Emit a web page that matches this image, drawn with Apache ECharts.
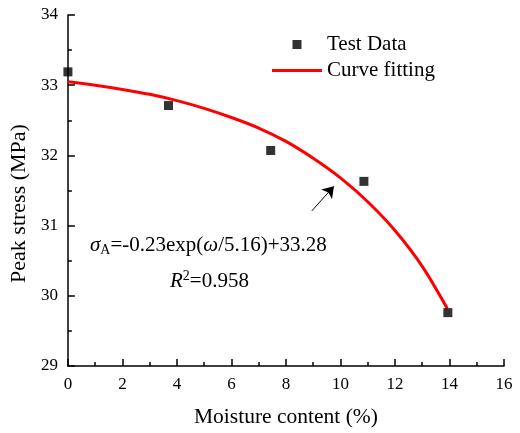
<!DOCTYPE html>
<html lang="en">
<head>
    <meta charset="UTF-8">
    <title>Peak stress vs moisture content</title>
    <script src="https://cdn.jsdelivr.net/npm/echarts@6/dist/echarts.min.js"></script>
    <style>
        html, body { margin: 0; padding: 0; background: #fff; }
    </style>
</head>
<body>
    <div id="main" style="width: 520px;height:433px;"></div>

    <script type="text/javascript">
        // test data
        var testX = [0, 3.69, 7.44, 10.86, 13.94];
        var testY = [33.19, 32.71, 32.07, 31.63, 29.76];

        // fitted curve
        var fitX = [0, 1, 2, 3, 4, 5, 6, 7, 8, 9, 10, 11, 12, 13, 13.92];
        var fitY = [33.05, 33.00, 32.94, 32.87, 32.78, 32.67, 32.54, 32.39, 32.20, 31.96, 31.68, 31.34, 30.93, 30.42, 29.82];

        // arrow pointing at the curve
        var arrowFrom = [8.95, 31.21];
        var arrowTo = [9.76, 31.56];

        var font = 'Liberation Serif';

        function pairs(xs, ys) {
            var out = [];
            for (var i = 0; i < xs.length; i++) {
                out.push([xs[i], ys[i]]);
            }
            return out;
        }

        var myChart = echarts.init(document.getElementById('main'));

        var tickStyle = { color: '#000', width: 1.5 };

        var option = {
            animation: false,
            backgroundColor: '#fff',
            grid: {
                left: 66,
                right: 16,
                top: 15,
                bottom: 65
            },
            legend: {
                orient: 'vertical',
                left: 272,
                top: 34,
                padding: 0,
                itemWidth: 50,
                itemHeight: 9,
                itemGap: 5,
                textStyle: { fontFamily: font, fontSize: 21, color: '#000' },
                data: [
                    { name: 'Test Data', icon: 'path://M0,0H10V10H0Z' },
                    { name: 'Curve fitting', icon: 'path://M0,0H50V3H0Z' }
                ]
            },
            xAxis: {
                type: 'value',
                min: 0,
                max: 16,
                interval: 2,
                name: 'Moisture content (%)',
                nameLocation: 'middle',
                nameGap: 40,
                nameTextStyle: { fontFamily: font, fontSize: 21.5, color: '#000' },
                axisLine: { lineStyle: tickStyle },
                // negative length turns the ticks into the plot
                axisTick: { inside: false, length: -7, lineStyle: tickStyle },
                minorTick: { show: true, splitNumber: 2, length: -4, lineStyle: tickStyle },
                axisLabel: { margin: 10, fontFamily: font, fontSize: 17, color: '#000' },
                splitLine: { show: false }
            },
            yAxis: {
                type: 'value',
                min: 29,
                max: 34,
                interval: 1,
                name: 'Peak stress (MPa)',
                nameLocation: 'middle',
                nameGap: 36,
                nameTextStyle: { fontFamily: font, fontSize: 22, color: '#000', padding: [0, 26, 0, 0] },
                axisLine: { show: true, lineStyle: tickStyle },
                axisTick: { show: true, inside: false, length: -7, lineStyle: tickStyle },
                minorTick: { show: true, splitNumber: 2, length: -4, lineStyle: tickStyle },
                axisLabel: { margin: 10, fontFamily: font, fontSize: 17, color: '#000' },
                splitLine: { show: false }
            },
            graphic: [
                {
                    type: 'text',
                    left: 90,
                    top: 235,
                    style: {
                        text: '{i|σ}{sub|A}=-0.23exp({i|ω}/5.16)+33.28',
                        font: '21px "Liberation Serif"',
                        fill: '#000',
                        rich: {
                            i: { fontFamily: font, fontSize: 21, fontStyle: 'italic' },
                            sub: { fontFamily: font, fontSize: 14, padding: [10, 0, 0, 0] }
                        }
                    }
                },
                {
                    type: 'text',
                    left: 170,
                    top: 269,
                    style: {
                        text: '{i|R}{sup|2}=0.958',
                        font: '21px "Liberation Serif"',
                        fill: '#000',
                        rich: {
                            i: { fontFamily: font, fontSize: 21, fontStyle: 'italic' },
                            sup: { fontFamily: font, fontSize: 14, padding: [0, 0, 10, 0] }
                        }
                    }
                }
            ],
            series: [
                {
                    name: 'Test Data',
                    type: 'scatter',
                    symbol: 'rect',
                    symbolSize: 9,
                    itemStyle: { color: '#000' },
                    data: pairs(testX, testY),
                    z: 3
                },
                {
                    name: 'Curve fitting',
                    type: 'line',
                    smooth: 0.3,
                    symbol: 'none',
                    lineStyle: { color: '#ff0000', width: 3 },
                    itemStyle: { color: '#ff0000' },
                    data: pairs(fitX, fitY),
                    markLine: {
                        silent: true,
                        symbol: ['none', 'arrow'],
                        symbolSize: 11,
                        label: { show: false },
                        lineStyle: { color: '#000', width: 1, type: 'solid' },
                        data: [[{ coord: arrowFrom }, { coord: arrowTo }]]
                    }
                }
            ]
        };

        myChart.setOption(option);
    </script>
</body>
</html>
